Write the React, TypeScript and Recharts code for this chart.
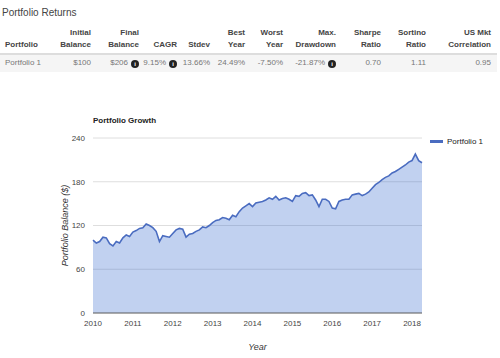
import { Area, AreaChart, CartesianGrid, XAxis, YAxis } from "recharts";

// table at the top
const headTop = ["", "Initial", "Final", "", "", "Best", "Worst", "Max.", "Sharpe", "Sortino", "US Mkt"];
const headBottom = ["Portfolio", "Balance", "Balance", "CAGR", "Stdev", "Year", "Year", "Drawdown", "Ratio", "Ratio", "Correlation"];
const rowValues = ["Portfolio 1", "$100", "$206", "9.15%", "13.66%", "24.49%", "-7.50%", "-21.87%", "0.70", "1.11", "0.95"];
const infoCols = [2, 3, 7];
const colRight = [0, 91, 139, 177, 210, 245, 283, 336, 381, 426, 491];

// monthly balance, Jan 2010 .. Apr 2018
const startYear = 2010;
const balance = [
  100, 96, 98, 104, 103, 95, 92, 98, 96, 103, 107, 105,
  111, 113, 116, 117, 122, 120, 117, 112, 98, 106, 105, 104,
  109, 114, 116, 115, 104, 108, 109, 112, 114, 118, 117, 120,
  124, 127, 128, 131, 130, 128, 134, 132, 139, 144, 147, 150,
  146, 151, 152, 153, 155, 158, 156, 160, 155, 157, 158, 156,
  153, 161, 160, 164, 165, 161, 162, 155, 146, 156, 156, 153,
  144, 143, 153, 155, 156, 156, 162, 163, 164, 161, 163, 166,
  171, 176, 179, 183, 186, 188, 192, 194, 197, 200, 203, 207,
  209, 218, 209, 206,
];
const yearTicks = [2010, 2011, 2012, 2013, 2014, 2015, 2016, 2017, 2018];
const valueTicks = [0, 60, 120, 180, 240];
const seriesName = "Portfolio 1";

const data = balance.map((v, i) => ({ t: startYear + i / 12, value: v }));

const font = "'Liberation Sans', Arial, sans-serif";

function InfoIcon() {
  return (
    <span
      style={{
        display: "inline-block",
        width: 8,
        height: 8,
        borderRadius: 4,
        background: "#222",
        color: "#fff",
        fontSize: 6,
        lineHeight: "8px",
        textAlign: "center",
        fontWeight: "bold",
        marginLeft: 3,
        verticalAlign: "-1px",
      }}
    >
      i
    </span>
  );
}

function Cell({ i, y, text, bold, color, icon }: { i: number; y: number; text: string; bold?: boolean; color: string; icon?: boolean }) {
  const base = { position: "absolute" as const, top: y, fontSize: 8, fontWeight: bold ? "bold" : "normal", color, whiteSpace: "nowrap" as const, lineHeight: "10px" };
  if (i === 0) return <div style={{ ...base, left: 5 }}>{text}</div>;
  return (
    <div style={{ ...base, right: 500 - colRight[i], textAlign: "right" }}>
      {text}
      {icon && <InfoIcon />}
    </div>
  );
}

export default function App() {
  return (
    <div style={{ position: "absolute", left: 0, top: 0, width: 500, height: 358, fontFamily: font, background: "#fff" }}>
      <div style={{ position: "absolute", left: 2, top: 7, fontSize: 10, color: "#444" }}>Portfolio Returns</div>
      {headTop.map((h, i) => (h ? <Cell key={"a" + i} i={i} y={28} text={h} bold color="#444" /> : null))}
      {headBottom.map((h, i) => <Cell key={"b" + i} i={i} y={40} text={h} bold color="#444" />)}
      <div style={{ position: "absolute", left: 0, top: 53, width: 497, height: 2, background: "#ddd" }} />
      <div style={{ position: "absolute", left: 0, top: 55, width: 497, height: 17, background: "#f5f5f5" }} />
      {rowValues.map((v, i) => (
        <Cell key={"c" + i} i={i} y={58} text={v} color="#777" icon={infoCols.includes(i)} />
      ))}

      <div style={{ position: "absolute", left: 93, top: 116, fontSize: 8, fontWeight: "bold", color: "#222" }}>Portfolio Growth</div>
      <div style={{ position: "absolute", left: 430, top: 137, display: "flex", alignItems: "center", fontSize: 8, color: "#222" }}>
        <span style={{ display: "inline-block", width: 13, height: 3, background: "#4a6cc0", marginRight: 4 }} />
        {seriesName}
      </div>

      <div style={{ position: "absolute", left: 0, top: 100 }}>
        <AreaChart width={500} height={258} data={data} margin={{ top: 38, right: 78, left: 0, bottom: 0 }}>
          <CartesianGrid vertical={false} stroke="#dedede" />
          <XAxis
            dataKey="t"
            type="number"
            domain={[startYear, startYear + (balance.length - 1) / 12]}
            ticks={yearTicks}
            height={45}
            tickLine={false}
            tickSize={5}
            tickMargin={2}
            stroke="#666"
            tick={{ fontSize: 8, fill: "#444", fontFamily: font }}
            label={{ value: "Year", position: "insideBottom", offset: 8, fontSize: 9, fontStyle: "italic", fill: "#333", fontFamily: font }}
          />
          <YAxis
            domain={[0, 240]}
            ticks={valueTicks}
            width={93}
            axisLine={false}
            tickLine={false}
            tick={{ fontSize: 8, fill: "#444", fontFamily: font }}
            label={{
              value: "Portfolio Balance ($)",
              angle: -90,
              position: "insideLeft",
              offset: 65,
              style: { textAnchor: "middle", fontSize: 9, fontStyle: "italic", fill: "#333", fontFamily: font },
            }}
          />
          <Area
            type="linear"
            dataKey="value"
            name={seriesName}
            stroke="#4a6cc0"
            strokeWidth={1.6}
            fill="#3366cc"
            fillOpacity={0.3}
            dot={false}
            activeDot={false}
            isAnimationActive={false}
          />
        </AreaChart>
      </div>
    </div>
  );
}
